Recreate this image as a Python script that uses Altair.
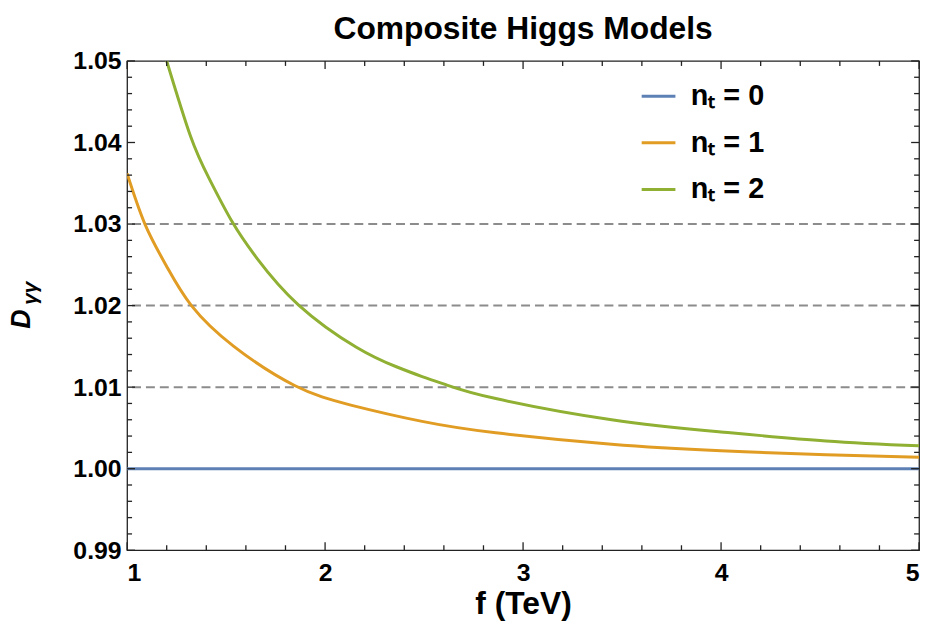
import altair as alt
import pandas as pd

# ---------------- data ----------------
title_text = "Composite Higgs Models"
x_title = "f (TeV)"
series_names = ["nₜ = 0", "nₜ = 1", "nₜ = 2"]
series_colors = ["#5E81B5", "#E19C24", "#8FB032"]

f_n0 = [1.0, 5.0]
d_n0 = [1.0, 1.0]

f_n1 = [1.0, 1.09, 1.2, 1.325, 1.539, 1.846, 2.13, 2.49, 2.862, 3.447, 4.0, 4.53, 5.0]
d_n1 = [1.0362, 1.0300, 1.0248, 1.0200, 1.0150, 1.0102, 1.0078, 1.0058, 1.0044, 1.0030, 1.0022, 1.0017, 1.0014]

f_n2 = [1.2, 1.32, 1.414, 1.53, 1.656, 1.865, 2.158, 2.36, 2.49, 2.61, 2.862, 3.447, 4.0, 4.53, 5.0]
d_n2 = [1.0500, 1.0408, 1.0356, 1.0303, 1.0258, 1.0201, 1.0149, 1.0125, 1.0113, 1.0103, 1.0086, 1.0060, 1.0045, 1.0034, 1.0028]

dashed_levels = [1.01, 1.02, 1.03]

x_major = [1, 2, 3, 4, 5]
x_minor = [1.2, 1.4, 1.6, 1.8, 2.2, 2.4, 2.6, 2.8, 3.2, 3.4, 3.6, 3.8, 4.2, 4.4, 4.6, 4.8]
y_major = [0.99, 1.00, 1.01, 1.02, 1.03, 1.04, 1.05]
y_minor = [0.992, 0.994, 0.996, 0.998, 1.002, 1.004, 1.006, 1.008, 1.012, 1.014, 1.016, 1.018,
           1.022, 1.024, 1.026, 1.028, 1.032, 1.034, 1.036, 1.038, 1.042, 1.044, 1.046, 1.048]

# ---------------- layout ----------------
W, H = 798, 493
FONT = "Liberation Sans"
FRAME = "#222222"

rows = []
for name, fs, ds in zip(series_names, [f_n0, f_n1, f_n2], [d_n0, d_n1, d_n2]):
    for f, d in zip(fs, ds):
        rows.append({"series": name, "f": f, "D": d})
df = pd.DataFrame(rows)

xscale = alt.Scale(domain=[1, 5], nice=False, zero=False)
yscale = alt.Scale(domain=[0.99, 1.05], nice=False, zero=False)

dashed = alt.Chart(pd.DataFrame({"D": dashed_levels})).mark_rule(
    color="#8c8c8c", strokeWidth=2, strokeDash=[9, 5]
).encode(y=alt.Y("D:Q", scale=yscale))

lines = alt.Chart(df).mark_line(strokeWidth=3, interpolate="natural", clip=True).encode(
    x=alt.X("f:Q", scale=xscale,
            axis=alt.Axis(values=x_major, format="d", title=x_title, labelPadding=11,
                          titleFontSize=32, titleFont=FONT, titleFontWeight="bold",
                          titleBaseline="alphabetic", titleY=64, titleColor="black")),
    y=alt.Y("D:Q", scale=yscale,
            axis=alt.Axis(values=y_major, format=".2f", title=None, labelPadding=6)),
    color=alt.Color("series:N", scale=alt.Scale(domain=series_names, range=series_colors),
                    legend=alt.Legend(title=None, orient="none", legendX=517, legendY=17,
                                      symbolType="stroke", symbolSize=1156, symbolStrokeWidth=3,
                                      labelFontSize=29, labelFont=FONT, labelFontWeight="bold",
                                      labelColor="black", labelOffset=14, rowPadding=13,
                                      padding=0)),
)

def tick_layers(vals, length):
    d = pd.DataFrame({"f": vals})
    base = alt.Chart(d).mark_rule(color=FRAME, strokeWidth=1.3)
    bottom = base.encode(x=alt.X("f:Q", scale=xscale), y=alt.value(H), y2=alt.value(H - length))
    top = base.encode(x=alt.X("f:Q", scale=xscale), y=alt.value(0), y2=alt.value(length))
    return [bottom, top]

def ytick_layers(vals, length):
    d = pd.DataFrame({"D": vals})
    base = alt.Chart(d).mark_rule(color=FRAME, strokeWidth=1.3)
    left = base.encode(y=alt.Y("D:Q", scale=yscale), x=alt.value(0), x2=alt.value(length))
    right = base.encode(y=alt.Y("D:Q", scale=yscale), x=alt.value(W), x2=alt.value(W - length))
    return [left, right]

ticks = (tick_layers(x_major, 8) + tick_layers(x_minor, 5)
         + ytick_layers(y_major, 8) + ytick_layers(y_minor, 5))

ylab_main = alt.Chart(pd.DataFrame({"t": ["D"]})).mark_text(
    angle=270, font=FONT, fontSize=27, fontWeight="bold", fontStyle="italic",
    baseline="alphabetic", align="center", color="black"
).encode(text="t:N", x=alt.value(-98), y=alt.value(260))

ylab_sub = alt.Chart(pd.DataFrame({"t": ["γγ"]})).mark_text(
    angle=270, font=FONT, fontSize=21, fontWeight="bold", fontStyle="italic",
    baseline="alphabetic", align="center", color="black"
).encode(text="t:N", x=alt.value(-91), y=alt.value(234))

title_mark = alt.Chart(pd.DataFrame({"t": [title_text]})).mark_text(
    font=FONT, fontSize=32, fontWeight="bold", color="black",
    baseline="alphabetic", align="center"
).encode(text="t:N", x=alt.value(W / 2), y=alt.value(-22))

chart = alt.layer(dashed, lines, *ticks, ylab_main, ylab_sub, title_mark).properties(
    width=W, height=H,
    padding={"left": 120, "top": 51, "right": 8, "bottom": 76},
    autosize=alt.AutoSizeParams(type="none"),
).configure_view(
    stroke=FRAME, strokeWidth=1.3
).configure_axis(
    domain=False, ticks=False, grid=False,
    labelFont=FONT, labelFontSize=25, labelFontWeight="bold", labelColor="black",
)

chart.save("out.html", embed_options={"renderer": "svg", "actions": False})
